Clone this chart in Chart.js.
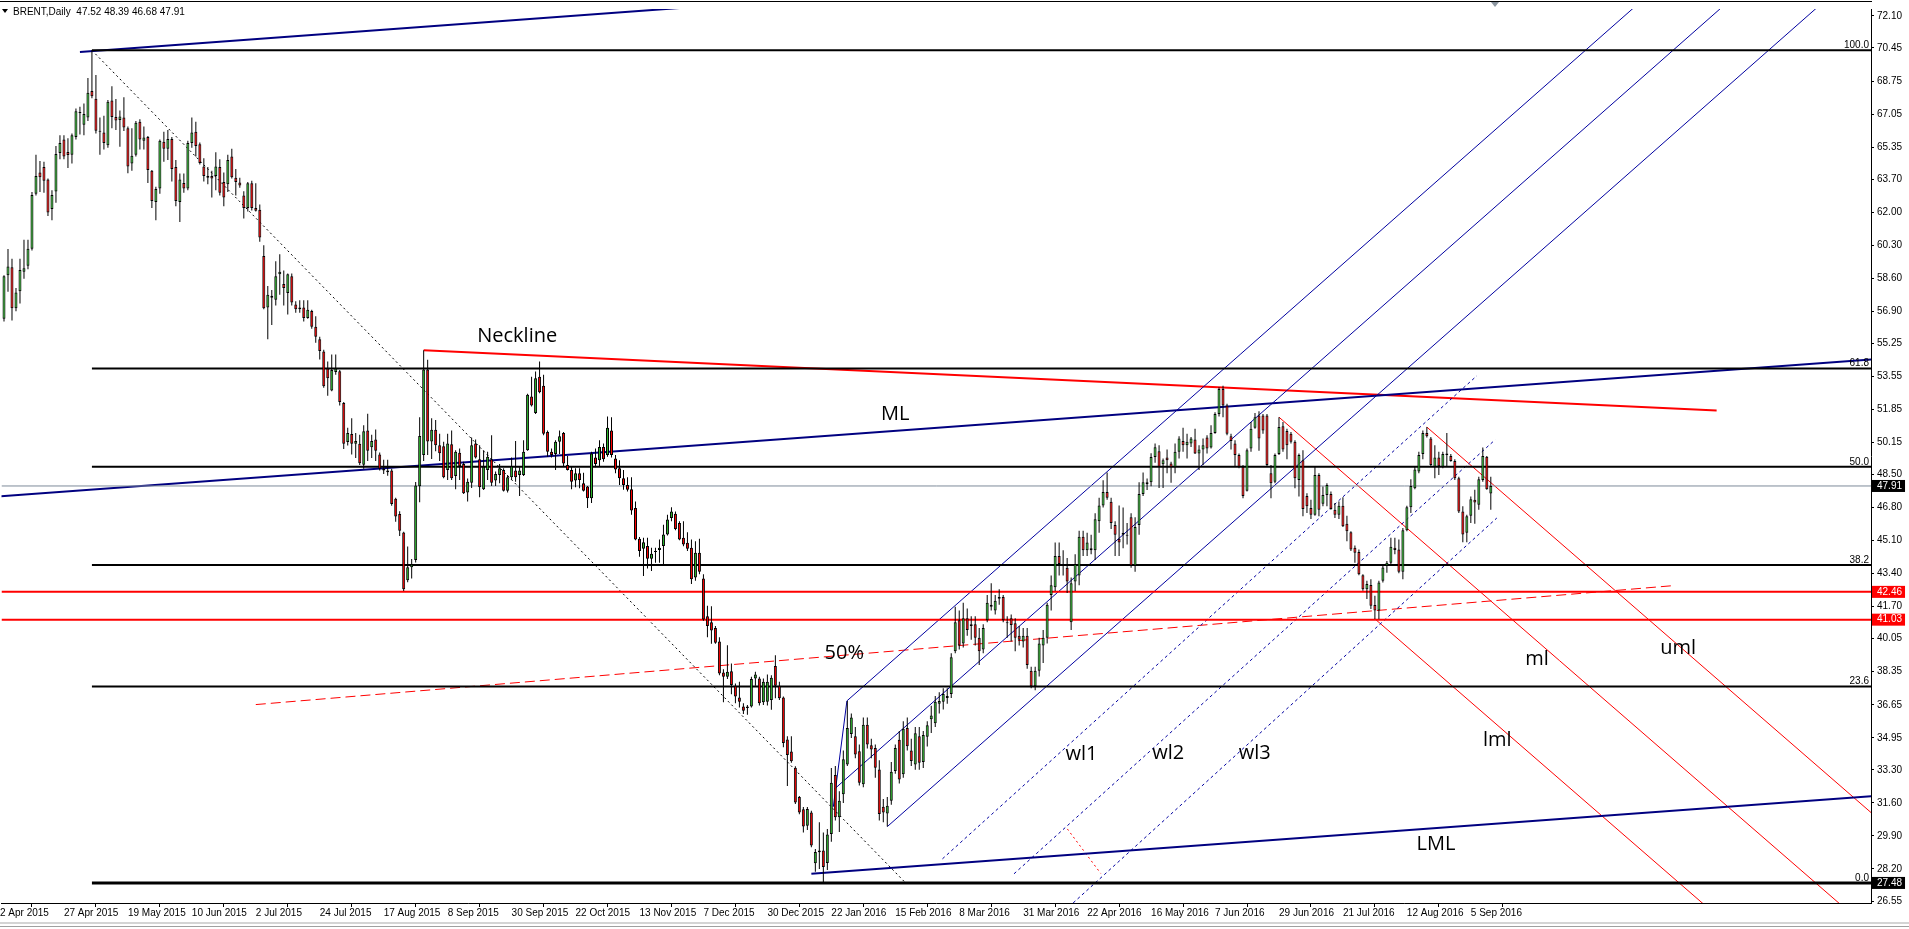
<!DOCTYPE html>
<html>
<head>
<meta charset="utf-8">
<title>BRENT Daily</title>
<script src="https://cdn.jsdelivr.net/npm/chart.js@4.4.1/dist/chart.umd.min.js"></script>
<style>
  html, body { margin: 0; padding: 0; background: #fff; overflow: hidden; }
  #wrap { position: relative; width: 1909px; height: 929px; }
</style>
</head>
<body>
<div id="wrap"><canvas id="chart" width="1909" height="929"></canvas></div>
<script>
// ---- daily bars (bar 0 = 2 Apr 2015) ----
const opens = [
  56.51, 58.75, 59.17, 57.05, 57.93, 58.93, 59.24, 60.12, 62.95, 64.04,
  64.32, 63.68, 62.16, 63.07, 65.05, 65.74, 65.10, 64.95, 65.87, 67.10,
  66.50, 66.87, 68.24, 67.84, 66.19, 66.10, 65.45, 67.75, 66.90, 66.74,
  66.87, 66.32, 64.50, 64.95, 66.65, 65.68, 65.87, 64.13, 62.53, 63.22,
  65.63, 65.27, 65.77, 64.32, 62.53, 63.50, 63.22, 65.56, 66.14, 65.50,
  64.35, 63.86, 63.86, 63.86, 64.32, 63.55, 63.44, 64.86, 63.77, 63.53,
  62.86, 62.22, 63.49, 62.22, 62.13, 59.75, 57.10, 57.60, 57.50, 58.80,
  58.30, 57.84, 58.70, 57.25, 57.00, 57.10, 56.56, 56.92, 56.10, 55.46,
  54.83, 53.95, 52.82, 53.77, 53.82, 52.18, 50.17, 50.59, 50.08, 50.08,
  49.00, 50.77, 49.90, 50.30, 49.53, 48.80, 48.71, 48.71, 47.25, 46.47,
  45.52, 43.06, 43.73, 44.10, 47.89, 49.50, 53.90, 50.20, 50.80, 50.00,
  49.96, 48.73, 50.06, 48.42, 49.62, 49.04, 47.57, 48.08, 50.09, 49.28,
  47.74, 48.73, 49.28, 48.19, 48.48, 48.73, 47.67, 48.36, 48.70, 48.48,
  48.48, 49.75, 52.51, 51.66, 53.53, 53.07, 50.69, 49.67, 49.55, 50.18,
  50.64, 48.99, 48.73, 48.19, 48.56, 48.05, 47.88, 47.28, 49.38, 49.24,
  49.92, 49.50, 50.77, 49.33, 48.82, 48.31, 47.96, 47.74, 46.77, 45.19,
  44.68, 44.82, 44.17, 44.56, 44.61, 44.82, 45.41, 46.26, 46.48, 46.01,
  45.24, 44.99, 44.73, 43.20, 44.47, 43.15, 41.20, 40.90, 40.60, 39.91,
  38.31, 38.09, 38.38, 37.63, 37.02, 36.56, 36.48, 36.56, 38.00, 38.00,
  36.78, 36.81, 36.90, 38.65, 37.63, 37.02, 34.86, 34.25, 33.41, 31.90,
  31.27, 30.43, 31.11, 28.50, 29.06, 29.15, 28.51, 30.00, 33.04, 30.86,
  32.05, 33.58, 35.15, 35.03, 34.26, 32.56, 35.62, 34.57, 34.43, 33.32,
  31.40, 31.06, 31.71, 33.24, 34.85, 33.07, 35.45, 34.30, 33.58, 35.03,
  33.70, 35.00, 35.90, 35.70, 36.70, 36.80, 37.00, 37.20, 39.40, 41.00,
  39.80, 41.10, 40.70, 40.80, 40.10, 39.50, 41.00, 41.70, 41.50, 42.10,
  42.20, 40.90, 41.10, 40.85, 40.20, 39.90, 40.20, 38.40, 37.60, 38.40,
  39.70, 40.10, 42.30, 42.70, 44.30, 43.90, 43.70, 40.90, 43.00, 43.30,
  45.30, 44.60, 44.70, 44.60, 46.10, 46.90, 47.60, 47.10, 45.90, 45.20,
  45.40, 45.40, 46.30, 43.80, 45.90, 47.50, 48.00, 48.10, 49.40, 49.70,
  49.03, 49.38, 49.07, 48.87, 49.67, 50.23, 50.01, 50.09, 50.30, 49.58,
  49.79, 50.40, 49.89, 50.64, 51.62, 52.90, 52.05, 50.47, 50.09, 49.50,
  48.90, 47.67, 49.84, 50.91, 51.54, 51.54, 51.54, 48.56, 48.13, 49.55,
  50.98, 50.74, 50.60, 50.18, 48.22, 49.24, 47.40, 46.77, 46.43, 48.48,
  46.99, 47.45, 47.50, 46.69, 46.43, 46.89, 45.97, 45.53, 44.73, 44.51,
  43.32, 42.60, 42.81, 41.79, 41.50, 43.03, 43.79, 43.96, 44.73, 44.64,
  43.49, 45.63, 46.82, 47.79, 48.65, 49.55, 50.64, 50.35, 48.90, 49.38,
  48.90, 49.58, 49.45, 49.20, 48.31, 46.60, 45.50, 46.38, 47.20, 46.94,
  48.22, 49.41, 47.52
];
const highs = [
  58.75, 60.10, 59.60, 58.10, 59.60, 60.58, 60.58, 63.04, 64.95, 64.64,
  64.60, 63.73, 63.13, 65.41, 65.96, 65.96, 65.81, 66.05, 67.33, 67.42,
  67.60, 68.91, 70.33, 69.06, 66.87, 66.96, 67.78, 68.48, 67.82, 67.23,
  67.91, 66.41, 66.32, 66.69, 66.78, 66.41, 65.92, 64.17, 63.31, 65.74,
  66.14, 66.23, 65.87, 64.68, 63.99, 63.99, 65.68, 66.87, 66.65, 65.59,
  64.77, 64.32, 64.13, 65.08, 64.72, 64.04, 64.95, 65.27, 64.22, 63.77,
  63.08, 63.55, 63.62, 63.49, 62.40, 60.30, 58.20, 58.00, 59.48, 59.84,
  59.00, 58.84, 58.84, 57.42, 57.47, 57.47, 57.47, 56.98, 56.65, 55.59,
  54.92, 54.32, 54.68, 54.68, 53.88, 52.23, 50.90, 51.40, 50.63, 50.54,
  51.03, 51.63, 50.54, 50.81, 49.63, 49.26, 49.26, 48.80, 47.30, 46.61,
  45.56, 44.79, 44.15, 48.11, 51.45, 54.90, 54.40, 51.40, 51.30, 50.60,
  50.18, 50.60, 50.77, 49.75, 49.84, 49.16, 48.30, 50.40, 50.30, 50.01,
  49.75, 49.67, 50.52, 48.65, 49.04, 48.82, 48.48, 49.38, 50.23, 48.87,
  50.26, 52.65, 53.53, 53.80, 54.31, 53.63, 50.77, 49.84, 50.26, 50.77,
  50.69, 49.45, 48.90, 48.82, 48.82, 48.59, 47.91, 49.67, 49.84, 50.26,
  50.09, 51.49, 51.45, 49.50, 49.24, 48.73, 48.36, 48.36, 47.11, 45.29,
  45.24, 45.24, 44.73, 44.73, 45.16, 45.92, 46.43, 46.82, 46.60, 46.09,
  46.09, 45.53, 45.16, 45.07, 45.19, 43.37, 41.75, 41.72, 40.70, 40.13,
  38.48, 39.71, 38.77, 37.75, 37.84, 36.73, 36.64, 38.09, 38.35, 38.09,
  38.00, 38.21, 38.17, 39.20, 37.84, 37.07, 35.03, 35.03, 33.49, 31.96,
  31.39, 31.39, 31.19, 29.23, 30.60, 30.08, 30.25, 33.40, 33.50, 32.20,
  34.30, 36.85, 36.20, 35.50, 34.60, 36.00, 36.00, 34.90, 34.60, 33.80,
  31.80, 31.90, 33.70, 34.60, 35.30, 35.80, 36.00, 34.90, 35.50, 35.50,
  35.30, 35.80, 36.60, 37.10, 37.30, 37.50, 37.50, 39.30, 41.70, 41.50,
  41.90, 41.60, 41.20, 41.20, 40.60, 40.80, 42.30, 42.90, 42.30, 42.60,
  42.30, 41.20, 41.30, 41.10, 40.70, 40.60, 40.60, 38.60, 38.60, 40.10,
  40.50, 41.90, 43.30, 45.00, 45.00, 44.60, 44.20, 43.20, 44.40, 45.60,
  45.60, 45.50, 45.40, 46.50, 47.30, 48.20, 48.60, 47.30, 46.10, 46.90,
  46.80, 46.00, 46.50, 46.30, 48.10, 48.60, 48.30, 49.60, 50.10, 50.00,
  49.33, 49.79, 49.16, 50.09, 50.47, 50.91, 50.60, 50.43, 50.86, 50.01,
  50.35, 50.52, 51.03, 51.71, 52.99, 53.07, 52.14, 50.60, 50.26, 49.58,
  48.99, 49.84, 51.20, 51.66, 51.76, 51.62, 51.62, 48.99, 49.58, 51.45,
  51.20, 50.86, 50.69, 50.26, 49.58, 49.75, 47.54, 47.20, 48.90, 48.56,
  47.88, 48.05, 47.62, 47.03, 47.11, 47.33, 46.38, 45.58, 44.85, 44.64,
  43.37, 43.03, 43.11, 42.26, 43.03, 43.79, 44.05, 45.24, 45.24, 45.16,
  45.75, 46.89, 48.25, 48.93, 49.67, 50.77, 50.94, 50.43, 50.01, 49.67,
  49.67, 50.64, 49.55, 49.28, 48.39, 46.86, 46.43, 47.37, 47.71, 48.39,
  49.89, 49.45, 48.39
];
const lows = [
  56.38, 57.90, 56.43, 56.90, 57.30, 58.57, 59.06, 60.03, 62.86, 63.04,
  63.00, 61.80, 61.58, 62.49, 64.72, 64.72, 64.28, 64.50, 65.74, 66.00,
  65.96, 66.69, 67.87, 66.05, 64.95, 65.23, 65.32, 66.32, 66.23, 65.37,
  66.18, 64.00, 64.13, 64.86, 65.23, 65.23, 63.50, 62.22, 61.58, 62.95,
  64.59, 64.68, 63.58, 62.31, 61.49, 63.00, 63.13, 65.32, 64.86, 64.46,
  63.58, 63.44, 62.76, 63.13, 62.86, 62.31, 63.04, 63.73, 62.86, 63.26,
  61.67, 62.04, 62.09, 62.04, 60.48, 57.00, 55.46, 56.20, 57.20, 57.75,
  57.20, 56.74, 57.20, 56.83, 56.83, 56.38, 56.51, 56.00, 55.28, 54.42,
  52.97, 52.55, 52.78, 53.64, 52.05, 49.81, 49.99, 49.53, 49.35, 48.99,
  48.80, 49.20, 49.35, 49.20, 48.71, 48.53, 48.44, 46.89, 46.07, 45.34,
  42.51, 42.96, 43.15, 43.97, 47.07, 49.20, 49.50, 49.30, 49.70, 49.20,
  48.31, 48.22, 48.22, 47.74, 48.22, 47.50, 47.11, 47.80, 49.33, 47.33,
  47.70, 48.22, 47.91, 47.91, 48.05, 47.62, 47.57, 48.22, 48.13, 47.40,
  48.42, 49.72, 52.00, 51.62, 52.68, 50.52, 49.41, 49.38, 48.73, 49.55,
  48.93, 48.70, 47.74, 47.84, 47.79, 47.62, 46.77, 47.03, 48.87, 48.90,
  49.16, 49.41, 49.38, 48.56, 47.96, 47.71, 47.62, 46.43, 45.12, 44.27,
  43.28, 43.66, 43.54, 43.96, 43.96, 43.88, 45.36, 46.09, 45.63, 45.12,
  44.81, 44.56, 42.86, 43.03, 43.37, 40.98, 40.13, 39.79, 39.79, 38.17,
  36.78, 37.97, 37.19, 36.73, 36.51, 36.17, 36.13, 36.51, 37.63, 36.61,
  36.64, 36.61, 36.39, 36.98, 36.90, 34.46, 32.47, 33.66, 31.54, 31.02,
  30.08, 30.20, 29.32, 28.06, 28.20, 27.48, 28.15, 29.60, 30.70, 30.10,
  31.60, 33.50, 34.94, 33.90, 32.50, 32.40, 34.40, 33.90, 32.90, 30.70,
  30.60, 30.38, 31.50, 33.10, 32.60, 32.90, 34.30, 33.50, 33.30, 33.30,
  33.40, 34.50, 35.20, 35.50, 36.20, 36.40, 36.70, 37.00, 39.30, 39.50,
  39.60, 40.20, 40.00, 39.70, 38.70, 39.30, 40.90, 41.50, 41.30, 41.80,
  40.90, 40.10, 39.90, 39.40, 39.70, 39.60, 38.50, 37.50, 37.40, 38.10,
  38.80, 39.80, 41.50, 42.50, 43.30, 43.30, 42.40, 40.50, 42.50, 42.80,
  44.30, 44.30, 44.40, 44.10, 45.50, 46.80, 47.20, 45.70, 44.30, 44.30,
  44.70, 44.90, 43.70, 43.50, 45.40, 47.40, 47.70, 47.90, 49.10, 47.80,
  47.80, 48.56, 48.08, 48.56, 49.33, 49.67, 49.33, 49.92, 49.55, 48.73,
  48.99, 49.58, 49.84, 50.60, 51.49, 51.45, 50.52, 49.79, 48.90, 48.82,
  47.28, 47.62, 49.67, 50.86, 49.72, 50.60, 48.90, 47.28, 48.05, 49.50,
  49.67, 49.28, 50.09, 47.79, 47.37, 46.35, 46.52, 46.21, 46.38, 46.35,
  46.86, 46.86, 46.69, 46.26, 46.21, 45.80, 45.07, 44.56, 43.96, 43.32,
  42.52, 42.09, 41.58, 41.07, 41.07, 42.94, 43.45, 43.88, 44.39, 43.42,
  43.11, 45.58, 46.52, 47.74, 48.56, 49.28, 50.40, 48.93, 48.31, 48.48,
  48.82, 48.90, 49.16, 48.22, 46.52, 45.02, 45.02, 46.01, 45.97, 46.69,
  48.13, 47.71, 46.68
];
const closes = [
  58.70, 59.20, 57.05, 57.87, 59.03, 59.12, 60.12, 62.89, 63.86, 63.80,
  63.62, 61.98, 62.89, 64.99, 65.56, 64.86, 64.94, 65.96, 67.20, 67.12,
  67.05, 68.15, 67.97, 66.19, 66.14, 65.56, 67.69, 66.90, 66.72, 66.92,
  66.36, 64.35, 64.90, 66.60, 65.74, 65.85, 64.17, 62.58, 63.19, 65.68,
  65.27, 65.77, 64.22, 62.58, 63.68, 63.22, 65.56, 66.10, 65.41, 64.53,
  63.86, 63.77, 63.73, 64.35, 63.00, 62.76, 64.68, 63.80, 63.55, 63.37,
  62.22, 63.49, 62.22, 62.07, 60.70, 57.05, 57.75, 57.70, 58.70, 58.93,
  58.10, 58.80, 57.35, 57.00, 57.10, 56.56, 56.98, 56.10, 55.59, 54.86,
  53.04, 53.46, 53.88, 53.95, 52.23, 50.08, 50.63, 50.08, 50.23, 49.08,
  50.72, 49.72, 50.23, 49.72, 48.80, 48.71, 48.62, 46.98, 46.34, 45.61,
  42.60, 43.73, 43.88, 47.93, 50.48, 53.90, 50.20, 50.80, 50.00, 49.60,
  48.36, 50.09, 48.31, 49.67, 48.93, 47.54, 48.13, 50.01, 49.38, 47.84,
  48.90, 49.41, 48.08, 48.53, 48.82, 47.67, 48.36, 48.93, 48.36, 48.70,
  49.67, 52.61, 52.05, 53.46, 52.73, 50.60, 49.67, 49.50, 50.18, 50.47,
  49.07, 48.73, 48.13, 48.56, 48.22, 47.67, 47.28, 49.58, 49.04, 49.92,
  49.28, 50.91, 49.50, 48.76, 48.31, 47.96, 47.71, 46.65, 45.16, 44.56,
  45.02, 44.17, 44.42, 44.51, 44.73, 45.41, 46.18, 46.60, 45.70, 45.16,
  44.90, 44.68, 43.11, 44.47, 43.49, 41.04, 40.70, 40.47, 39.84, 38.26,
  38.09, 38.35, 37.67, 37.07, 36.81, 36.34, 36.56, 37.97, 38.21, 36.73,
  37.84, 37.84, 38.04, 37.63, 36.98, 34.68, 34.06, 33.74, 31.62, 31.10,
  30.38, 31.28, 29.41, 29.07, 29.15, 28.30, 29.97, 32.64, 30.86, 31.71,
  33.84, 35.45, 35.99, 34.09, 32.64, 35.62, 34.60, 34.35, 33.41, 31.03,
  31.10, 31.45, 33.20, 34.43, 32.81, 35.42, 34.52, 33.75, 35.18, 33.67,
  35.10, 35.60, 36.10, 36.80, 36.85, 37.20, 37.10, 39.10, 40.90, 39.70,
  41.10, 40.50, 40.80, 40.10, 39.40, 40.60, 41.90, 41.80, 42.00, 42.20,
  41.00, 40.85, 40.75, 40.10, 40.00, 40.20, 38.70, 37.60, 38.40, 39.80,
  40.10, 41.80, 42.80, 44.30, 43.90, 43.80, 43.00, 42.90, 43.90, 45.30,
  44.60, 45.00, 44.60, 46.20, 46.90, 47.60, 47.30, 46.00, 45.40, 45.00,
  45.50, 45.35, 43.80, 45.80, 47.50, 48.10, 48.10, 49.40, 49.90, 48.90,
  49.24, 49.24, 48.87, 49.67, 50.35, 50.01, 50.18, 50.35, 49.58, 49.79,
  50.01, 49.84, 50.64, 51.62, 52.90, 52.05, 50.60, 50.23, 49.50, 48.90,
  47.40, 49.75, 50.86, 51.45, 50.35, 50.77, 48.99, 48.05, 49.50, 50.94,
  49.79, 50.01, 50.18, 48.31, 49.50, 46.72, 46.86, 46.43, 48.48, 46.69,
  47.45, 47.96, 46.72, 46.43, 46.89, 45.84, 45.58, 44.64, 44.47, 43.37,
  42.60, 42.86, 41.75, 41.50, 42.94, 43.71, 43.96, 44.78, 44.61, 43.49,
  45.63, 46.82, 47.91, 48.76, 49.50, 50.64, 50.47, 48.99, 49.38, 48.93,
  49.55, 49.50, 49.20, 48.31, 46.60, 45.41, 46.35, 47.23, 47.06, 48.25,
  49.45, 47.74, 47.91
];

// ---- axis labels ----
const dateLabels = [
  '2 Apr 2015', '27 Apr 2015', '19 May 2015', '10 Jun 2015', '2 Jul 2015', '24 Jul 2015',
  '17 Aug 2015', '8 Sep 2015', '30 Sep 2015', '22 Oct 2015', '13 Nov 2015', '7 Dec 2015',
  '30 Dec 2015', '22 Jan 2016', '15 Feb 2016', '8 Mar 2016', '31 Mar 2016', '22 Apr 2016',
  '16 May 2016', '7 Jun 2016', '29 Jun 2016', '21 Jul 2016', '12 Aug 2016', '5 Sep 2016'
];
const firstDateBar = -1;
const barsPerDateLabel = 16;
const priceTicks = [
  72.10, 70.45, 68.75, 67.05, 65.35, 63.70, 62.00, 60.30, 58.60, 56.90, 55.25, 53.55, 51.85, 50.15,
  48.50, 46.80, 45.10, 43.40, 41.70, 40.05, 38.35, 36.65, 34.95, 33.30, 31.60, 29.90, 28.20, 26.55
];
const markedPrices = [47.91, 42.46, 41.03, 27.48];
const markedColors = ['#000000', '#ff0000', '#ff0000', '#000000'];

// ---- drawn objects ----
const fibStartBar = 22;
const fibLow = 27.48, fibHigh = 70.33;
const fibLevels = [0, 23.6, 38.2, 50, 61.8, 100];
const redLevels = [42.46, 41.03];
const lastPrice = 47.91;

// big blue pitchfork (upper line, ML, LML)
const pf1Upper = [19, 70.25], pf1Median = [109.4, 49.04], pf1Lower = [202, 27.95], pf1Slope = 0.01505;
// thin blue pitchfork from the January low
const pf2Handle = [[207.5, 31.4], [210.9, 36.85]];
const pf2Upper = [210.9, 36.85], pf2Median = [207.7, 32.3], pf2Lower = [221, 30.38], pf2Slope = 0.1812;
// dashed warning lines wl1..wl3
const warnLines = [[[234.8, 28.72], [368.5, 53.58]], [[252.7, 27.95], [373.1, 50.29]], [[267.5, 26.45], [373.5, 46.26]]];
// red pitchfork (ml / uml / lml)
const pf3Median = [319, 51.45], pf3Upper = [356, 50.94], pf3Lower = [343, 41.07], pf3Slope = -0.1785;
const neckline = [[105, 54.9], [428.5, 51.8]];
const halfLine = [[63, 36.66], [417.6, 42.78]];
const downLine = [[22, 70.33], [225.5, 27.5]];
const redDotted = [[266.05, 30.26], [274.4, 27.97]];

const notes = [
  { text: 'Neckline', bar: 118.4, price: 55.30 },
  { text: 'ML', bar: 219.4, price: 51.30 },
  { text: '50%', bar: 205.3, price: 39.01 },
  { text: 'wl1', bar: 265.6, price: 33.79 },
  { text: 'wl2', bar: 287.3, price: 33.84 },
  { text: 'wl3', bar: 308.95, price: 33.84 },
  { text: 'LML', bar: 353.4, price: 29.16 },
  { text: 'lml', bar: 370.05, price: 34.52 },
  { text: 'ml', bar: 380.6, price: 38.70 },
  { text: 'uml', bar: 414.4, price: 39.28 }
];

const X_MIN = -0.625, X_MAX = 467.125, X_FAR = 472;
const AXIS_FONT = '"Liberation Sans", Arial, sans-serif';
const BULL = '#2db82d', BEAR = '#ff0000', NAVY = '#000080', THIN_BLUE = '#0000a0';

function seg(p1, p2, color, width, dash) {
  return {
    type: 'line',
    data: [{ x: p1[0], y: p1[1] }, { x: p2[0], y: p2[1] }],
    borderColor: color, borderWidth: width, borderDash: dash || [],
    pointRadius: 0, fill: false, tension: 0, order: 5
  };
}
function ray(p, slope, toBar, color, width, dash) {
  return seg(p, [toBar, p[1] + slope * (toBar - p[0])], color, width, dash);
}

const bodyData = opens.map((o, i) => ({ x: i, y: [o, closes[i]] }));
const wickData = opens.map((o, i) => ({ x: i, y: [lows[i], highs[i]] }));
const bodyColors = opens.map((o, i) => closes[i] >= o ? BULL : BEAR);

const datasets = [
  { type: 'bar', data: bodyData, backgroundColor: bodyColors, borderColor: '#000', borderWidth: 1,
    borderSkipped: false, barThickness: 3, grouped: false, minBarLength: 1, inflateAmount: 0, order: 0 },
  { type: 'bar', data: wickData, backgroundColor: '#000', borderWidth: 0,
    barThickness: 1, grouped: false, inflateAmount: 0, order: 1 },

  seg([X_MIN, lastPrice], [X_FAR, lastPrice], '#7d8b99', 1),
  ...redLevels.map(p => seg([X_MIN, p], [X_FAR, p], '#ff0000', 2)),
  ...fibLevels.map(l => {
    const p = fibLow + (fibHigh - fibLow) * l / 100;
    return seg([fibStartBar, p], [X_FAR, p], '#000', l === 0 ? 3 : 2);
  }),

  ray(pf1Upper, pf1Slope, X_FAR, NAVY, 2),
  seg([-5, pf1Median[1] + pf1Slope * (-5 - pf1Median[0])], [X_FAR, pf1Median[1] + pf1Slope * (X_FAR - pf1Median[0])], NAVY, 2),
  ray(pf1Lower, pf1Slope, X_FAR, NAVY, 2),

  seg(pf2Handle[0], pf2Handle[1], THIN_BLUE, 1),
  ray(pf2Upper, pf2Slope, X_FAR, THIN_BLUE, 1),
  ray(pf2Median, pf2Slope, X_FAR, THIN_BLUE, 1),
  ray(pf2Lower, pf2Slope, X_FAR, THIN_BLUE, 1),
  ...warnLines.map(l => seg(l[0], l[1], THIN_BLUE, 1, [3, 3])),

  ray(pf3Median, pf3Slope, X_FAR, '#ff0000', 1),
  ray(pf3Upper, pf3Slope, X_FAR, '#ff0000', 1),
  ray(pf3Lower, pf3Slope, X_FAR, '#ff0000', 1),
  seg(neckline[0], neckline[1], '#ff0000', 2),
  seg(halfLine[0], halfLine[1], '#ff0000', 1, [10, 5]),
  seg(redDotted[0], redDotted[1], '#ff0000', 1, [2, 3]),
  seg(downLine[0], downLine[1], '#000', 1, [2, 3])
];

const overlay = {
  id: 'overlay',
  afterDatasetsDraw(chart) {
    const { ctx, chartArea, scales: { x, y } } = chart;
    ctx.save();
    ctx.fillStyle = '#000';
    ctx.textBaseline = 'alphabetic';
    ctx.font = '10px ' + AXIS_FONT;
    ctx.textAlign = 'right';
    fibLevels.forEach(l => {
      const p = fibLow + (fibHigh - fibLow) * l / 100;
      ctx.fillText(l.toFixed(1), chartArea.right - 2, Math.round(y.getPixelForValue(p)) - 2);
    });
    ctx.textAlign = 'left';
    ctx.font = '20px "Open Sans", sans-serif';
    notes.forEach(n => ctx.fillText(n.text, x.getPixelForValue(n.bar), y.getPixelForValue(n.price)));
    ctx.restore();
  },
  afterDraw(chart) {
    const { ctx, chartArea, scales: { x } } = chart;
    ctx.save();
    // window frame
    ctx.fillStyle = '#000';
    ctx.fillRect(0, 1, chartArea.right + 1, 1);
    ctx.fillStyle = '#d4d4d4';
    ctx.fillRect(0, 922, chart.width, 2);
    ctx.fillStyle = '#a0a0a0';
    ctx.fillRect(0, 926, chart.width, 1);
    // chart shift marker
    const sx = Math.round(x.getPixelForValue(opens.length));
    ctx.fillStyle = '#8c96a0';
    ctx.beginPath();
    ctx.moveTo(sx - 4, 2); ctx.lineTo(sx + 4, 2); ctx.lineTo(sx, 7); ctx.closePath(); ctx.fill();
    // header
    ctx.fillStyle = '#000';
    ctx.beginPath();
    ctx.moveTo(2, 9); ctx.lineTo(8, 9); ctx.lineTo(5, 13); ctx.closePath(); ctx.fill();
    ctx.font = '10px ' + AXIS_FONT;
    ctx.textAlign = 'left';
    ctx.textBaseline = 'alphabetic';
    const n = opens.length - 1;
    ctx.fillText('BRENT,Daily  ' + [opens[n], highs[n], lows[n], closes[n]].map(v => v.toFixed(2)).join(' '), 13, 15);
    ctx.restore();
  }
};

const markIndex = v => markedPrices.findIndex(m => Math.abs(m - v) < 1e-6);

new Chart(document.getElementById('chart'), {
  type: 'bar',
  data: { datasets },
  plugins: [overlay],
  options: {
    responsive: false,
    devicePixelRatio: 1,
    animation: false,
    events: [],
    layout: { padding: { top: 2, left: 0, right: 0, bottom: 0 } },
    plugins: { legend: { display: false }, tooltip: { enabled: false } },
    scales: {
      x: {
        type: 'linear', min: X_MIN, max: X_MAX, offset: false,
        afterBuildTicks: s => { s.ticks = dateLabels.map((l, k) => ({ value: firstDateBar + k * barsPerDateLabel })); },
        afterFit: s => { s.height = 26; },
        ticks: {
          autoSkip: false, maxRotation: 0, minRotation: 0, align: 'start', padding: 0,
          color: '#000', font: { family: AXIS_FONT, size: 10 },
          callback: (v, idx) => dateLabels[idx]
        },
        grid: { drawOnChartArea: false, drawTicks: true, tickLength: 4, color: '#000' },
        border: { display: true, color: '#000', width: 1 }
      },
      y: {
        type: 'linear', position: 'right', min: 26.448, max: 72.457,
        afterBuildTicks: s => {
          s.ticks = priceTicks.concat(markedPrices).sort((a, b) => b - a).map(v => ({ value: v }));
        },
        afterFit: s => { s.width = 38; },
        ticks: {
          autoSkip: false, padding: 3,
          font: { family: AXIS_FONT, size: 10 },
          callback: v => Number(v).toFixed(2),
          color: c => markIndex(c.tick.value) >= 0 ? '#fff' : '#000',
          showLabelBackdrop: c => markIndex(c.tick.value) >= 0,
          backdropColor: c => { const k = markIndex(c.tick.value); return k >= 0 ? markedColors[k] : 'rgba(0,0,0,0)'; },
          backdropPadding: { left: 5, right: 3, top: 0, bottom: 0 }
        },
        grid: { drawOnChartArea: false, drawTicks: true, tickLength: 3, color: '#000' },
        border: { display: true, color: '#000', width: 1 }
      }
    }
  }
});
</script>
</body>
</html>
